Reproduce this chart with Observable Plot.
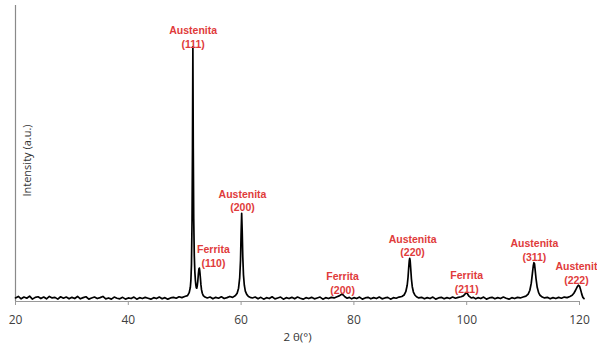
<!DOCTYPE html>
<html><head><meta charset="utf-8">
<script src="https://cdn.jsdelivr.net/npm/d3@7"></script>
<script src="https://cdn.jsdelivr.net/npm/@observablehq/plot@0.6"></script>
<style>body{margin:0;overflow:hidden;background:#fff}</style>
</head><body><div id="chart"></div>
<script>
// 2θ (degrees)
const twoTheta = [
  20,20.5,21,21.5,22,22.5,23,23.5,24,24.5, 25,25.5,26,26.5,27,27.5,28,28.5,29,29.5,
  30,30.5,31,31.5,32,32.5,33,33.5,34,34.5, 35,35.5,36,36.5,37,37.5,38,38.5,39,39.5,
  40,40.5,41,41.5,42,42.5,43,43.5,44,44.5, 45,45.5,46,46.5,47,47.5,48,48.5,49,49.5, 50,
  50.5,50.8,51.0,51.1,51.2,51.3,51.38,51.45,51.52,51.6,51.7,51.8,51.9,51.98,52.06,52.14,52.22,52.32,52.42,52.52,52.6,52.68,52.78,52.88,52.98,53.12,53.3,53.6,54.0,
  54.5,55,55.5,56,56.5,57,57.5,58,58.5,
  59.0,59.3,59.55,59.75,59.9,60.0,60.1,60.2,60.3,60.42,60.57,60.75,61.0,61.3,61.6,62.0,
  62.5,63,63.5,64,64.5,65,65.5,66,66.5,67,67.5,68,68.5,69,69.5,70,70.5,71,71.5,72,72.5,73,73.5,74,74.5,75,75.5,76,76.5,
  77.0,77.4,77.7,77.9,78.1,78.4,78.8,
  79.2,79.6,80.0,80.5,81,81.5,82,82.5,83,83.5,84,84.5,85,85.5,86,86.5,87,87.5,88,
  88.5,88.9,89.2,89.45,89.6,89.72,89.82,89.9,89.98,90.08,90.2,90.35,90.55,90.8,91.1,91.5,92.0,
  92.5,93,93.5,94,94.5,95,95.5,96,96.5,97,97.5,98,98.5,99,
  99.4,99.7,99.9,100.1,100.4,100.8,
  101.2,101.6,102,102.5,103,103.5,104,104.5,105,105.5,106,106.5,107,107.5,108,108.5,109,109.5,110,
  110.5,110.9,111.2,111.45,111.65,111.8,111.92,112.02,112.14,112.3,112.5,112.75,113.0,113.4,113.8,
  114.3,114.8,115.3,115.8,116.3,116.8,117.3,117.8,
  118.3,118.7,119.0,119.3,119.55,119.8,120.0,120.2,120.4,120.6,120.8
];
// Intensity (a.u.)
const intensity = [
  12,17,9,15,11,18,8,14,16,10, 15,9,17,12,14,8,16,11,15,9,
  14,10,17,9,13,16,8,12,15,10, 13,17,9,12,8,15,11,9,14,8,
  12,10,15,8,13,10,14,11,8,13, 10,15,9,13,8,12,14,11,16,13, 17,
  20,30,48,72,125,270,520,860,520,280,155,100,70,55,46,45,52,68,92,110,113,102,80,56,40,28,20,15,12,
  15,9,14,11,16,10,13,17,14,
  20,28,45,80,140,230,298,235,150,90,55,35,24,17,14,12,
  15,9,14,8,13,10,16,9,12,15,8,13,10,14,9,15,11,8,13,10,14,9,12,15,8,13,10,14,12,
  16,19,23,25,22,16,11,
  14,9,13,10,15,8,12,14,9,13,10,15,9,12,14,8,13,11,15,
  17,22,33,55,82,115,138,146,137,110,76,50,32,22,16,12,14,
  9,13,10,15,8,12,14,9,13,10,15,11,14,16,
  19,25,30,27,18,12,
  14,9,13,10,15,8,12,14,9,13,10,15,11,8,13,10,14,12,15,
  18,25,38,62,95,120,131,128,106,76,48,30,21,15,12,
  14,9,13,10,14,11,15,13,
  17,21,28,38,48,55,52,40,25,14,10
];
const peakPhase = ["Austenita","Ferrita","Austenita","Ferrita","Austenita","Ferrita","Austenita","Austenit"];
const peakPlane = ["(111)","(110)","(200)","(200)","(220)","(211)","(311)","(222)"];
const labelTheta = [51.5, 55.1, 60.25, 78.0, 90.4, 100.0, 112.0, 119.45];
const labelIntensity = [895, 154, 342, 64, 190, 68, 176, 98];
const xTicks = [20, 40, 60, 80, 100, 120];

const scan = twoTheta.map((t, i) => ({t, v: intensity[i]}));
const labels = peakPhase.map((p, i) => ({text: p + "\n" + peakPlane[i], t: labelTheta[i], v: labelIntensity[i]}));

const chart = Plot.plot({
  width: 597, height: 347,
  marginLeft: 15, marginRight: 18, marginTop: 5, marginBottom: 46,
  style: {background: "#fff", fontFamily: "Open Sans", overflow: "hidden"},
  x: {domain: [20, 120], axis: null},
  y: {domain: [0, 1000], axis: null},
  marks: [
    Plot.ruleY([0], {stroke: "#9a9a9a", strokeWidth: 1}),
    Plot.ruleX([20], {stroke: "#8a8a8a", strokeWidth: 1.2}),
    Plot.axisX({ticks: xTicks, tickSize: 4, tickPadding: 10, stroke: "#9a9a9a", fill: "#404040", fontSize: 12, label: null}),
    Plot.line(scan, {x: "t", y: "v", stroke: "#000", strokeWidth: 1.7}),
    Plot.text(labels, {x: "t", y: "v", text: "text", fill: "#e03b3b", fontWeight: "bold", fontSize: 10.5, fontFamily: "Liberation Sans", lineHeight: 1.3}),
    Plot.text(["Intensity (a.u.)"], {frameAnchor: "left", textAnchor: "middle", lineAnchor: "middle", dx: 12, dy: 7, rotate: -90, fontSize: 11, fill: "#333"}),
    Plot.text(["2 θ(°)"], {frameAnchor: "bottom", lineAnchor: "middle", dy: 36, fontSize: 11.5, fill: "#333"})
  ]
});
document.getElementById("chart").appendChild(chart);
</script>
</body></html>
